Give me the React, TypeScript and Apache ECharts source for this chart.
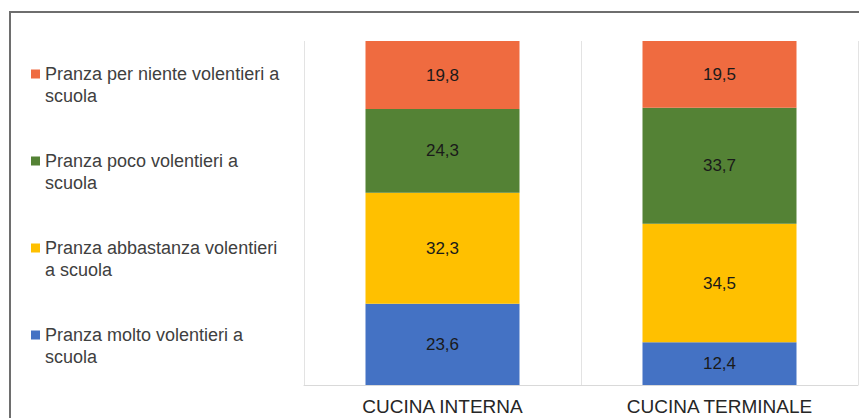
import React, { useEffect, useRef } from "react";
import * as echarts from "echarts";

const categories = ["CUCINA INTERNA", "CUCINA TERMINALE"];
const seriesNames = [
  "Pranza molto volentieri a scuola",
  "Pranza abbastanza volentieri a scuola",
  "Pranza poco volentieri a scuola",
  "Pranza per niente volentieri a scuola",
];
const legendWrapped: Record<string, string> = {
  "Pranza molto volentieri a scuola": "Pranza molto volentieri a\nscuola",
  "Pranza abbastanza volentieri a scuola": "Pranza abbastanza volentieri\na scuola",
  "Pranza poco volentieri a scuola": "Pranza poco volentieri a\nscuola",
  "Pranza per niente volentieri a scuola": "Pranza per niente volentieri a\nscuola",
};
const molto = [23.6, 12.4];
const abbastanza = [32.3, 34.5];
const poco = [24.3, 33.7];
const perNiente = [19.8, 19.5];
const seriesValues = [molto, abbastanza, poco, perNiente];
const colors = ["#4472C4", "#FFC000", "#548235", "#EF6B40"];

const FONT = "'Liberation Sans', Arial, sans-serif";

export default function App() {
  const ref = useRef<HTMLDivElement>(null);
  useEffect(() => {
    if (!ref.current) return;
    const chart = echarts.init(ref.current, null, { renderer: "svg" });
    const option: any = {
      animation: false,
      backgroundColor: "#ffffff",
      graphic: [
        {
          type: "rect",
          shape: { x: 10, y: 12, width: 900, height: 500 },
          style: { fill: "none", stroke: "#6e6e6e", lineWidth: 2 },
          silent: true,
          z: 0,
        },
      ],
      legend: {
        orient: "vertical",
        left: 31,
        top: 63,
        padding: 0,
        itemGap: 43,
        itemWidth: 9,
        itemHeight: 31,
        icon: "path://M0,0h9v9h-9z M0,31h0.01",
        data: [...seriesNames].reverse(),
        formatter: (name: string) => legendWrapped[name] || name,
        textStyle: {
          fontFamily: FONT,
          fontSize: 18,
          lineHeight: 22,
          color: "#404040",
        },
        selectedMode: false,
      },
      grid: { left: 304, right: 1, top: 41, bottom: 33, containLabel: false },
      xAxis: {
        type: "category",
        data: categories,
        axisTick: { show: false },
        axisLine: { show: true, lineStyle: { color: "#d9d9d9", width: 1 } },
        splitLine: { show: true, lineStyle: { color: "#e3e3e3", width: 1 } },
        axisLabel: {
          margin: 12,
          fontFamily: FONT,
          fontSize: 19,
          color: "#262626",
        },
      },
      yAxis: {
        type: "value",
        min: 0,
        max: 100,
        show: false,
        splitLine: { show: false },
      },
      series: seriesNames.map((name, i) => ({
        name,
        type: "bar",
        stack: "total",
        barWidth: "55.6%",
        data: seriesValues[i],
        itemStyle: { color: colors[i] },
        label: {
          show: true,
          position: "inside",
          fontFamily: FONT,
          fontSize: 17,
          color: "#1a1a1a",
          formatter: (p: any) => String(p.value).replace(".", ","),
        },
      })),
    };
    chart.setOption(option);
    return () => chart.dispose();
  }, []);
  return (
    <div
      ref={ref}
      style={{ position: "fixed", left: 0, top: 0, width: 859, height: 418 }}
    />
  );
}
